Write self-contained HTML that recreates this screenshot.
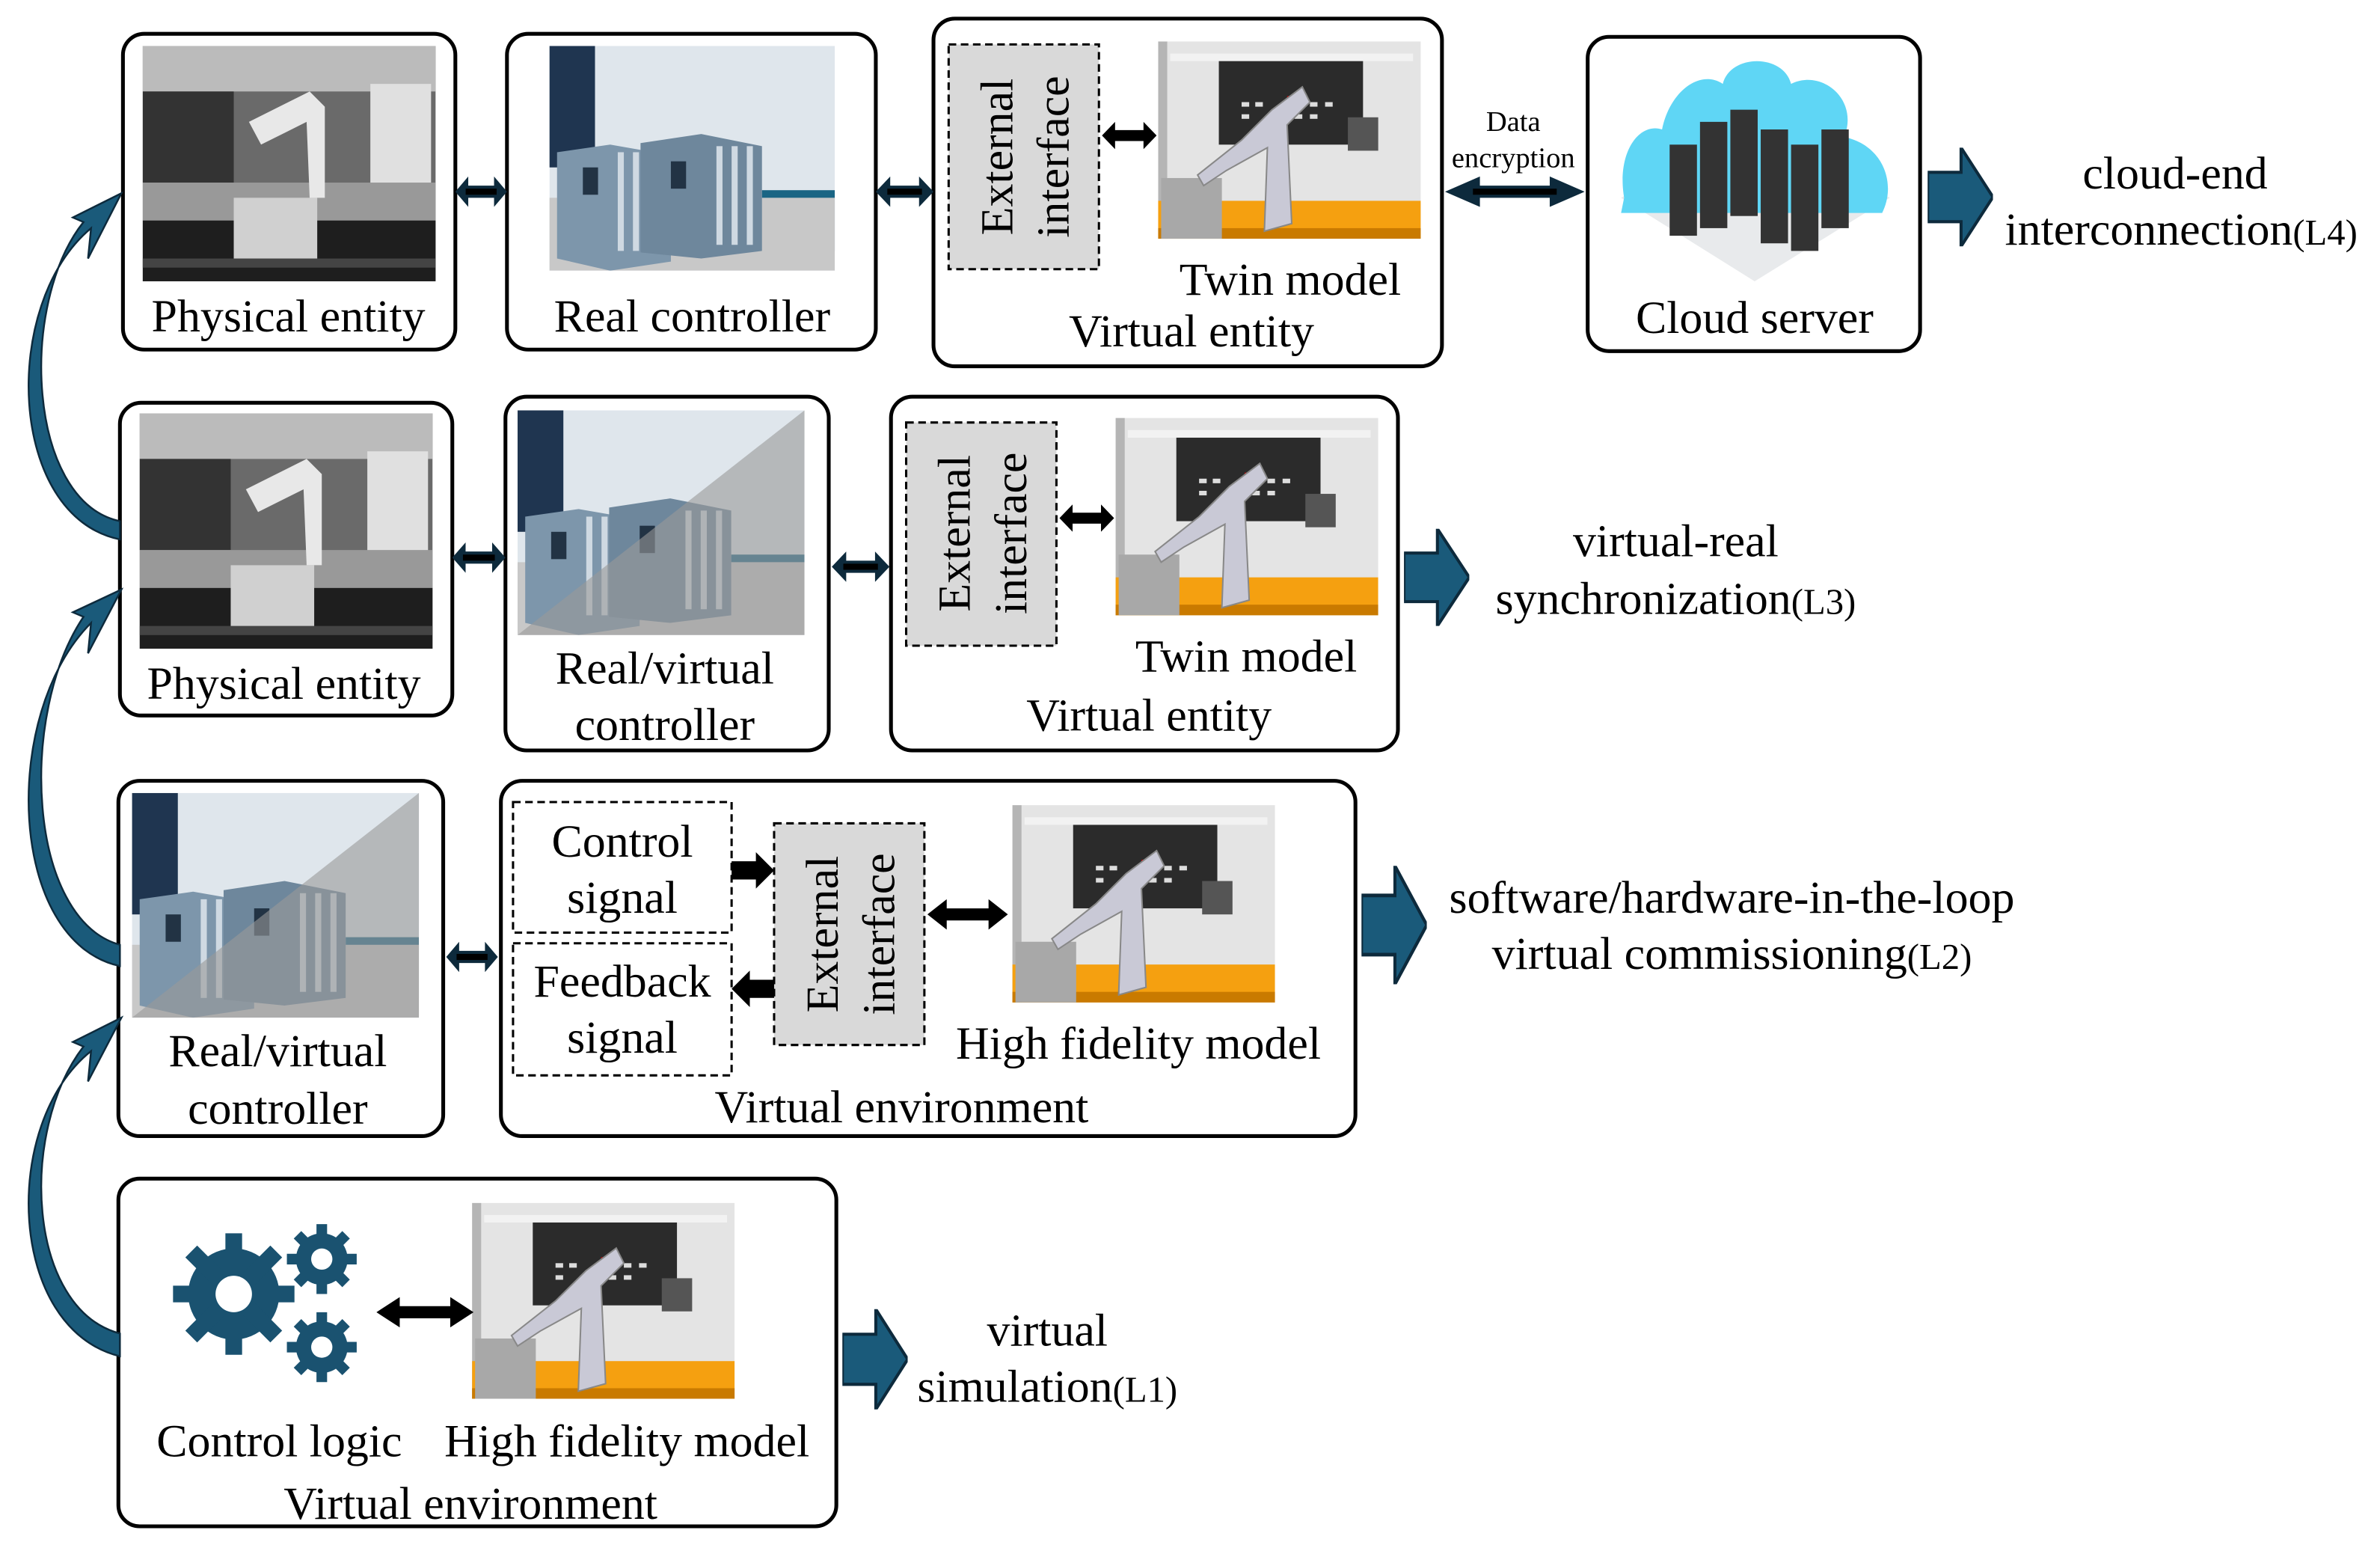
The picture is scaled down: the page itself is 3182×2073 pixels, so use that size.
<!DOCTYPE html>
<html><head><meta charset="utf-8"><style>
html,body{margin:0;padding:0;background:#fff}
svg{display:block}
text{font-family:"Liberation Serif",serif;fill:#000}
</style></head><body>
<svg width="3182" height="2073" viewBox="0 0 1568 1021" xmlns="http://www.w3.org/2000/svg">
<defs>
<symbol id="robot" viewBox="0 0 173 130" preserveAspectRatio="none">
<rect width="173" height="130" fill="#e4e4e4"/>
<rect x="0" y="0" width="6" height="130" fill="#b5b5b5"/>
<rect x="8" y="8" width="160" height="5" fill="#f2f2f2"/>
<rect x="40" y="13" width="95" height="55" fill="#2b2b2b"/>
<g fill="#ddd"><rect x="55" y="40" width="5" height="3"/><rect x="64" y="40" width="5" height="3"/><rect x="90" y="40" width="5" height="3"/><rect x="100" y="40" width="5" height="3"/><rect x="110" y="40" width="5" height="3"/><rect x="55" y="48" width="5" height="3"/><rect x="90" y="48" width="5" height="3"/><rect x="100" y="48" width="5" height="3"/></g>
<rect x="85" y="36" width="2" height="15" fill="#c00"/>
<rect x="125" y="50" width="20" height="22" fill="#555"/>
<rect x="0" y="105" width="173" height="25" fill="#f5a010"/>
<rect x="0" y="123" width="173" height="7" fill="#c97a00"/>
<rect x="2" y="90" width="40" height="40" fill="#a8a8a8"/>
<path d="M75 45 L95 30 L100 40 L85 55 L88 120 L70 125 L72 70 L45 85 L30 95 L26 88 L55 65 Z" fill="#c9c9d6" stroke="#888" stroke-width="1"/>
</symbol>
<symbol id="photo" viewBox="0 0 193 155" preserveAspectRatio="none">
<rect width="193" height="155" fill="#6a6a6a"/>
<rect x="0" y="0" width="193" height="30" fill="#bbb"/>
<rect x="0" y="30" width="60" height="60" fill="#333"/>
<rect x="150" y="25" width="40" height="70" fill="#e0e0e0"/>
<rect x="0" y="90" width="193" height="25" fill="#999"/>
<rect x="0" y="115" width="193" height="40" fill="#1e1e1e"/>
<rect x="60" y="100" width="55" height="45" fill="#d0d0d0"/>
<path d="M70 50 L110 30 L120 40 L120 100 L110 100 L108 50 L78 65Z" fill="#e8e8e8"/>
<rect x="0" y="140" width="193" height="6" fill="#444"/>
</symbol>
<symbol id="ctrl" viewBox="0 0 188 148" preserveAspectRatio="none">
<rect width="188" height="148" fill="#dfe6ec"/>
<rect width="30" height="80" fill="#1f3550"/>
<rect x="140" y="95" width="48" height="40" fill="#1a6584"/>
<rect x="0" y="100" width="188" height="48" fill="#c8c8c8"/>
<path d="M5 70 L40 65 L80 72 L80 142 L40 148 L5 140Z" fill="#7d96ab"/>
<path d="M60 64 L100 58 L140 66 L140 135 L100 140 L60 136Z" fill="#6e879c"/>
<rect x="22" y="80" width="10" height="18" fill="#234"/>
<rect x="80" y="76" width="10" height="18" fill="#234"/>
<g fill="#cfd9e2"><rect x="45" y="70" width="4" height="65"/><rect x="55" y="70" width="4" height="65"/><rect x="110" y="66" width="4" height="65"/><rect x="120" y="66" width="4" height="65"/><rect x="130" y="66" width="4" height="65"/></g>
</symbol>
<symbol id="dbl" viewBox="0 0 40 20" preserveAspectRatio="none">
<path d="M0 10 L10 0 L10 6 L30 6 L30 0 L40 10 L30 20 L30 14 L10 14 L10 20Z" fill="#0d2a3c"/>
<rect x="8" y="8" width="24" height="4" fill="#000"/>
</symbol>
<symbol id="big" viewBox="0 0 43 64" preserveAspectRatio="none">
<path d="M0 16 L22 16 L22 0 L43 32 L22 64 L22 48 L0 48Z" fill="#1a5a7a" stroke="#0d2a3c" stroke-width="2"/>
</symbol>
<symbol id="bdbl" viewBox="0 0 50 20" preserveAspectRatio="none">
<path d="M0 10 L12 0 L12 6 L38 6 L38 0 L50 10 L38 20 L38 14 L12 14 L12 20Z" fill="#000"/>
</symbol>
</defs>
<g fill="none" stroke="#000" stroke-width="2.5">
<rect x="81" y="22" width="219" height="208" rx="14"/>
<rect x="334" y="22" width="243" height="208" rx="14"/>
<rect x="615" y="12" width="335" height="229" rx="14"/>
<rect x="1046" y="24" width="219" height="207" rx="14"/>
<rect x="79" y="265" width="219" height="206" rx="14"/>
<rect x="333" y="261" width="213" height="233" rx="14"/>
<rect x="587" y="261" width="334" height="233" rx="14"/>
<rect x="78" y="514" width="214" height="234" rx="14"/>
<rect x="330" y="514" width="563" height="234" rx="14"/>
<rect x="78" y="776" width="473" height="229" rx="14"/>
</g>
<use href="#photo" x="94" y="30" width="193" height="155"/>
<use href="#photo" x="92" y="272" width="193" height="155"/>
<use href="#ctrl" x="362" y="30" width="188" height="148"/>
<use href="#ctrl" x="341" y="270" width="189" height="148"/>
<use href="#ctrl" x="87" y="522" width="189" height="148"/>
<path d="M530 270 L341 418 L530 418Z" fill="#999" opacity="0.6"/>
<path d="M276 522 L87 670 L276 670Z" fill="#999" opacity="0.6"/>
<use href="#robot" x="763" y="27" width="173" height="130"/>
<use href="#robot" x="735" y="275" width="173" height="130"/>
<use href="#robot" x="667" y="530" width="173" height="130"/>
<use href="#robot" x="311" y="792" width="173" height="129"/>
<!-- cloud -->
<path d="M1156 185 L1245 130 L1156 80 L1068 130Z" fill="#e8eaec"/>
<path d="M1070 130 C1065 100 1080 80 1095 85 C1100 60 1120 45 1135 55 C1140 35 1175 35 1180 55 C1200 45 1225 65 1215 90 C1240 95 1250 120 1240 140 L1068 140Z" fill="#5fd6f5"/>
<g fill="#333"><rect x="1120" y="80" width="18" height="70"/><rect x="1140" y="72" width="18" height="70"/><rect x="1160" y="85" width="18" height="75"/><rect x="1180" y="95" width="18" height="70"/><rect x="1200" y="85" width="18" height="65"/><rect x="1100" y="95" width="18" height="60"/></g>
<!-- external interfaces -->
<g fill="#d9d9d9" stroke="#000" stroke-width="1.5" stroke-dasharray="5,3">
<rect x="625" y="29" width="99" height="148"/>
<rect x="597" y="278" width="99" height="147"/>
<rect x="510" y="542" width="99" height="146"/>
</g>
<g fill="none" stroke="#000" stroke-width="1.5" stroke-dasharray="5,3">
<rect x="338" y="528" width="144" height="86"/>
<rect x="338" y="621" width="144" height="87"/>
</g>
<g font-size="30.5" text-anchor="middle">
<text transform="translate(667,103) rotate(-90)">External</text>
<text transform="translate(704,103) rotate(-90)">interface</text>
<text transform="translate(639,351) rotate(-90)">External</text>
<text transform="translate(676,351) rotate(-90)">interface</text>
<text transform="translate(552,615) rotate(-90)">External</text>
<text transform="translate(589,615) rotate(-90)">interface</text>
<text x="190" y="218">Physical entity</text>
<text x="456" y="218">Real controller</text>
<text x="850" y="194">Twin model</text>
<text x="785" y="228">Virtual entity</text>
<text x="1156" y="219">Cloud server</text>
<text x="187" y="460">Physical entity</text>
<text x="438" y="450">Real/virtual</text>
<text x="438" y="487">controller</text>
<text x="821" y="442">Twin model</text>
<text x="757" y="481">Virtual entity</text>
<text x="183" y="702">Real/virtual</text>
<text x="183" y="740">controller</text>
<text x="410" y="564">Control</text>
<text x="410" y="601">signal</text>
<text x="410" y="656">Feedback</text>
<text x="410" y="693">signal</text>
<text x="750" y="697">High fidelity model</text>
<text x="594" y="739">Virtual environment</text>
<text x="184" y="959">Control logic</text>
<text x="413" y="959">High fidelity model</text>
<text x="310" y="1000">Virtual environment</text>
<text x="1433" y="124">cloud-end</text>
<text x="1437" y="161">interconnection<tspan font-size="24">(L4)</tspan></text>
<text x="1104" y="366">virtual-real</text>
<text x="1104" y="404">synchronization<tspan font-size="24">(L3)</tspan></text>
<text x="1141" y="601">software/hardware-in-the-loop</text>
<text x="1141" y="638">virtual commissioning<tspan font-size="24">(L2)</tspan></text>
<text x="690" y="886">virtual</text>
<text x="690" y="923">simulation<tspan font-size="24">(L1)</tspan></text>
</g>
<text x="997" y="86" font-size="19" text-anchor="middle">Data</text>
<text x="997" y="110" font-size="19" text-anchor="middle">encryption</text>
<!-- connectors -->
<use href="#dbl" x="300" y="116" width="34" height="20"/>
<use href="#dbl" x="577" y="116" width="38" height="20"/>
<use href="#dbl" x="952" y="116" width="92" height="20"/>
<use href="#dbl" x="298" y="357" width="35" height="20"/>
<use href="#dbl" x="548" y="363" width="38" height="20"/>
<use href="#dbl" x="294" y="620" width="34" height="20"/>
<use href="#bdbl" x="726" y="80" width="36" height="18"/>
<use href="#bdbl" x="698" y="332" width="36" height="18"/>
<use href="#bdbl" x="611" y="592" width="53" height="20"/>
<use href="#bdbl" x="248" y="854" width="64" height="20"/>
<path d="M482 567 L498 567 L498 561 L510 573 L498 585 L498 579 L482 579Z" fill="#000"/>
<path d="M510 645 L494 645 L494 639 L482 651 L494 663 L494 657 L510 657Z" fill="#000"/>
<use href="#big" x="1270" y="97" width="43" height="65"/>
<use href="#big" x="925" y="348" width="43" height="64"/>
<use href="#big" x="897" y="570" width="43" height="78"/>
<use href="#big" x="555" y="862" width="43" height="66"/>
<!-- gears -->
<g fill="#1a5270">
<circle cx="154" cy="852" r="30"/>
<circle cx="212" cy="829" r="17"/>
<circle cx="212" cy="887" r="17"/>
<g stroke="#1a5270" stroke-width="11"><line x1="154" y1="812" x2="154" y2="892"/><line x1="114" y1="852" x2="194" y2="852"/><line x1="126" y1="824" x2="182" y2="880"/><line x1="126" y1="880" x2="182" y2="824"/></g>
<g stroke="#1a5270" stroke-width="7"><line x1="212" y1="806" x2="212" y2="852"/><line x1="189" y1="829" x2="235" y2="829"/><line x1="212" y1="864" x2="212" y2="910"/><line x1="189" y1="887" x2="235" y2="887"/><line x1="196" y1="813" x2="228" y2="845"/><line x1="196" y1="845" x2="228" y2="813"/><line x1="196" y1="871" x2="228" y2="903"/><line x1="196" y1="903" x2="228" y2="871"/></g>
</g>
<circle cx="154" cy="852" r="12" fill="#fff"/>
<circle cx="212" cy="829" r="7" fill="#fff"/>
<circle cx="212" cy="887" r="7" fill="#fff"/>
<!-- left curved arrows -->
<g fill="#1a5a7a" stroke="#0d2a3c" stroke-width="1.2">
<path d="M79 355 C5 340 0 200 60 150 L58 170 L80 127 L48 143 L55 146 C12 200 18 330 79 343Z"/>
<path d="M79 636 C5 620 0 470 60 410 L58 430 L80 388 L48 403 L55 406 C12 470 18 605 79 622Z"/>
<path d="M79 893 C5 875 0 740 60 692 L58 712 L80 670 L48 686 L55 689 C12 745 18 862 79 878Z"/>
</g>
</svg>
</body></html>
